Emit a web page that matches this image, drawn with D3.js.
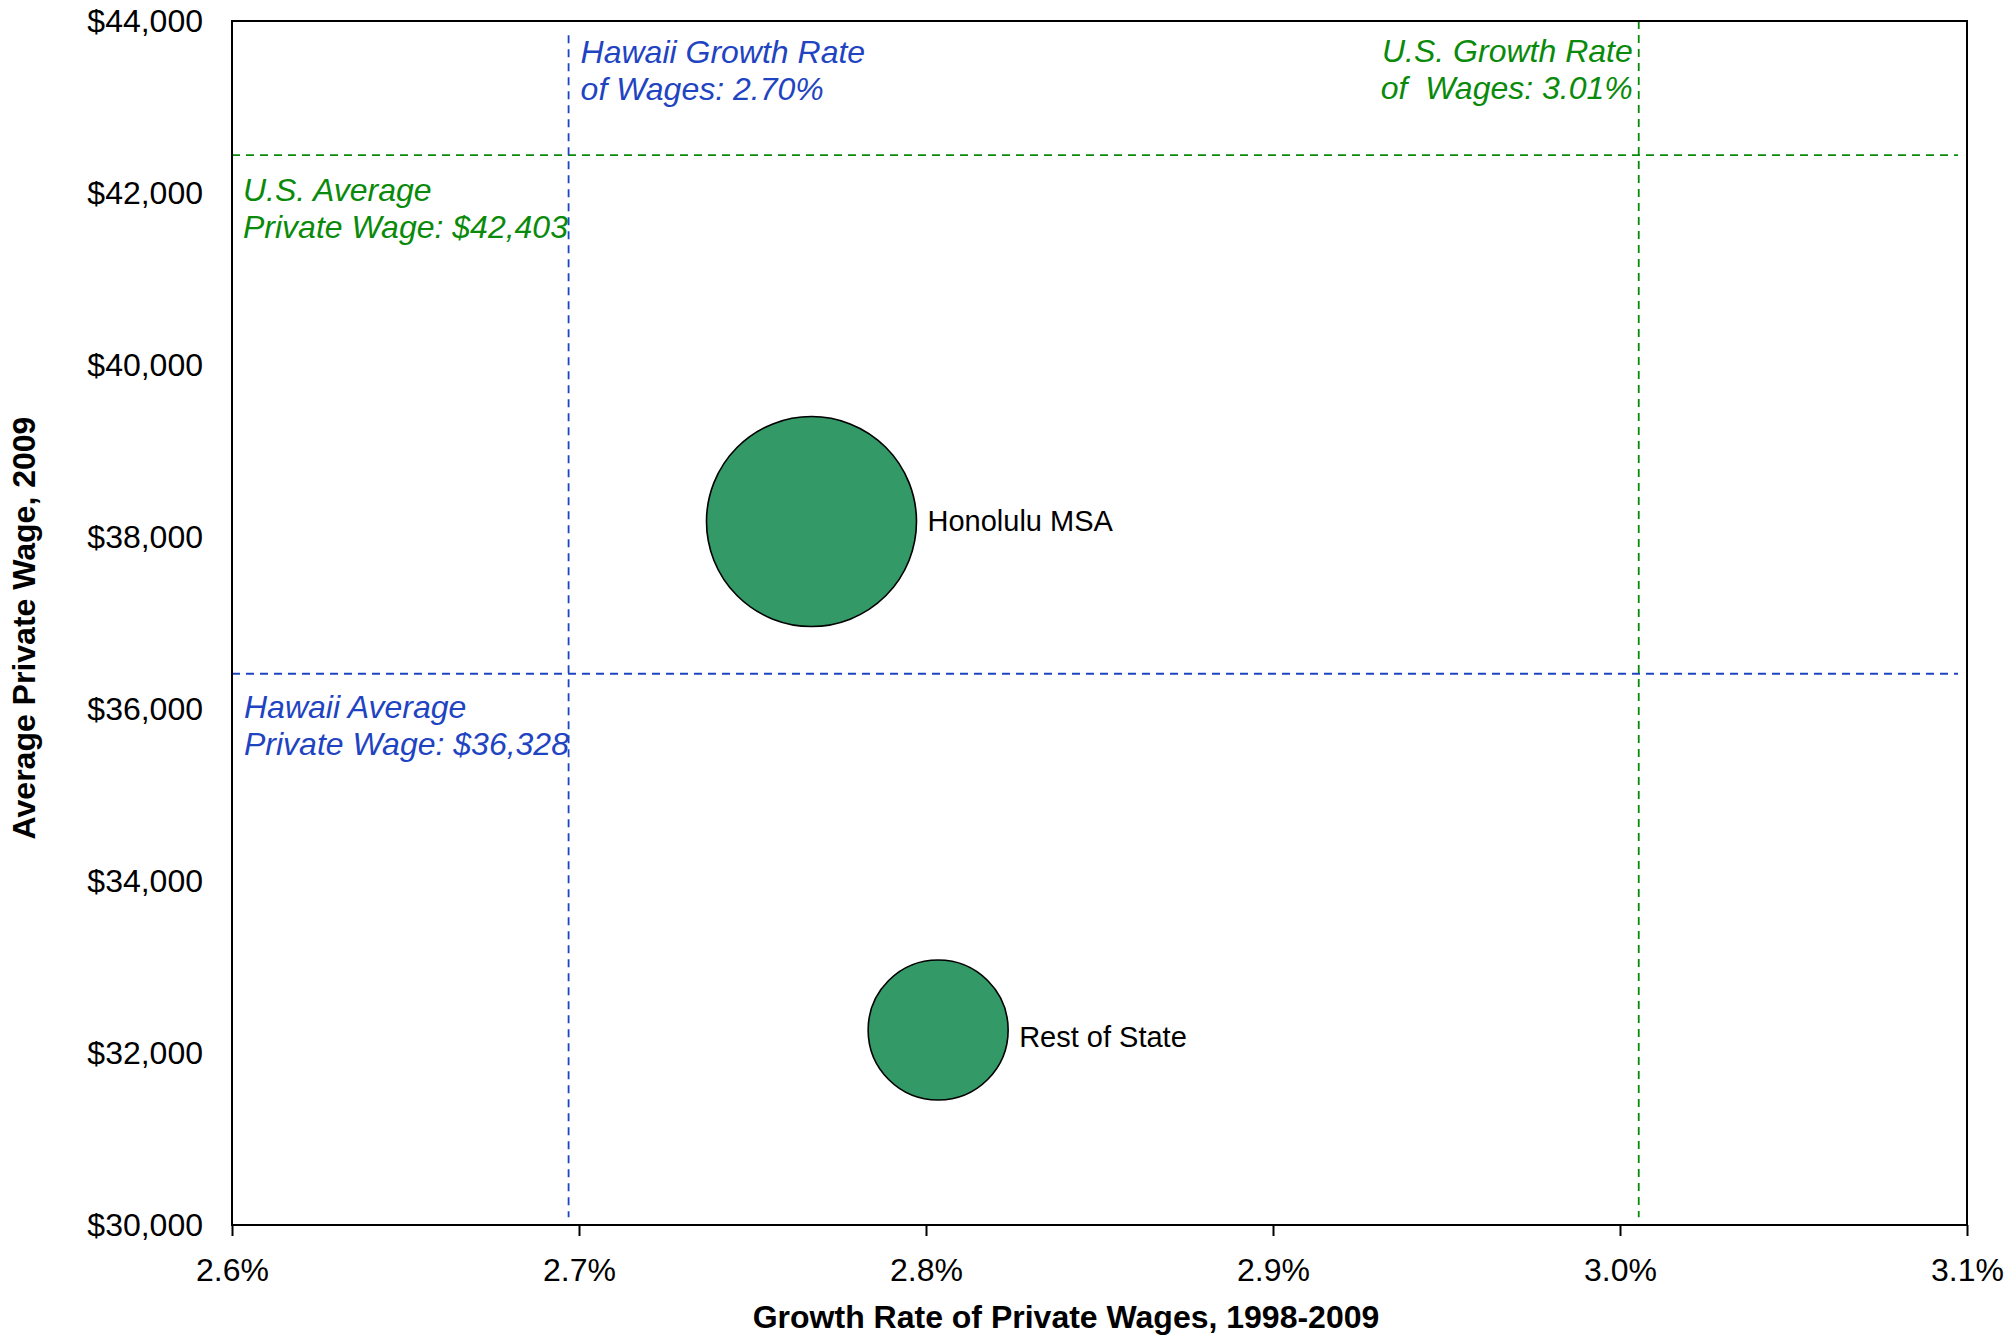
<!DOCTYPE html>
<html>
<head>
<meta charset="utf-8">
<script src="https://cdn.jsdelivr.net/npm/d3@7"></script>
<style>
  html, body { margin: 0; padding: 0; background: #fff; }
  svg { display: block; font-family: "Liberation Sans", Arial, sans-serif; }
</style>
</head>
<body>
<svg id="chart" width="2009" height="1335"></svg>
<script>
// ---------------- data ----------------
const regions      = ["Honolulu MSA", "Rest of State"];
const growthRates  = [2.767, 2.8035];        // % growth of private wages 1998-2009
const avgWages     = [38180, 32267];         // average private wage 2009 ($)
const bubbleSizes  = [360000, 160000];       // relative bubble size (employment)

const xTicks = [2.6, 2.7, 2.8, 2.9, 3.0, 3.1];
const yTicks = [30000, 32000, 34000, 36000, 38000, 40000, 42000, 44000];

// reference lines (positions as drawn in the picture)
const hawaiiGrowth = 2.697;   // labelled 2.70%
const usGrowth     = 3.0054;  // labelled 3.01%
const usWage       = 42440;   // labelled $42,403
const hawaiiWage   = 36410;   // labelled $36,328

const refTexts = {
  hawaiiGrowth: ["Hawaii Growth Rate", "of Wages: 2.70%"],
  usGrowth:     ["U.S. Growth Rate", "of  Wages: 3.01%"],
  usWage:       ["U.S. Average", "Private Wage: $42,403"],
  hawaiiWage:   ["Hawaii Average", "Private Wage: $36,328"]
};

// ---------------- layout ----------------
const svg = d3.select("#chart");
const L = 232, R = 1967, T = 21, B = 1225;
const BLUE = "#1f44c2", GREEN = "#0a8a0a", FILL = "#339966";

const x = d3.scaleLinear().domain([2.6, 3.1]).range([L, R]);
const y = d3.scaleLinear().domain([30000, 44000]).range([B, T]);
const r = d3.scaleSqrt().domain([0, d3.max(bubbleSizes)]).range([0, 105]);

// reference lines
const g = svg.append("g");
const dash = "8,6";
g.append("line").attr("x1", x(2.6)).attr("x2", x(3.0974))
  .attr("y1", y(usWage)).attr("y2", y(usWage))
  .attr("stroke", GREEN).attr("stroke-width", 1.8).attr("stroke-dasharray", dash);
g.append("line").attr("x1", x(2.6)).attr("x2", x(3.0974))
  .attr("y1", y(hawaiiWage)).attr("y2", y(hawaiiWage))
  .attr("stroke", BLUE).attr("stroke-width", 1.8).attr("stroke-dasharray", dash);
g.append("line").attr("x1", x(hawaiiGrowth)).attr("x2", x(hawaiiGrowth))
  .attr("y1", y(43835)).attr("y2", y(30090))
  .attr("stroke", BLUE).attr("stroke-width", 1.8).attr("stroke-dasharray", dash);
g.append("line").attr("x1", x(usGrowth)).attr("x2", x(usGrowth))
  .attr("y1", y(44000)).attr("y2", y(30090))
  .attr("stroke", GREEN).attr("stroke-width", 1.8).attr("stroke-dasharray", dash);

// reference annotations
function annot(lines, px, py, anchor, color) {
  const t = g.append("text").attr("x", px).attr("y", py)
    .attr("text-anchor", anchor).attr("fill", color)
    .attr("font-style", "italic").attr("font-size", 32)
    .style("white-space", "pre");
  lines.forEach((s, i) => t.append("tspan").attr("x", px).attr("dy", i === 0 ? 0 : 37).text(s));
}
annot(refTexts.hawaiiGrowth, x(hawaiiGrowth) + 12, 63, "start", BLUE);
annot(refTexts.usGrowth, x(usGrowth) - 6, 62, "end", GREEN);
annot(refTexts.usWage, x(2.6) + 11, y(usWage) + 46, "start", GREEN);
annot(refTexts.hawaiiWage, x(2.6) + 12, y(hawaiiWage) + 44, "start", BLUE);

// bubbles
const data = regions.map((name, i) => ({
  name, gx: growthRates[i], w: avgWages[i], s: bubbleSizes[i]
}));
const labelDy = [9, 17];
svg.append("g").selectAll("circle").data(data).join("circle")
  .attr("cx", d => x(d.gx)).attr("cy", d => y(d.w)).attr("r", d => r(d.s))
  .attr("fill", FILL).attr("stroke", "#000").attr("stroke-width", 1.6);
svg.append("g").selectAll("text").data(data).join("text")
  .attr("x", d => x(d.gx) + r(d.s) + 11)
  .attr("y", (d, i) => y(d.w) + labelDy[i])
  .attr("font-size", 29).attr("fill", "#000")
  .text(d => d.name);

// frame
svg.append("rect").attr("x", L).attr("y", T).attr("width", R - L).attr("height", B - T)
  .attr("fill", "none").attr("stroke", "#000").attr("stroke-width", 2);

// x axis
const xAxis = svg.append("g").attr("transform", `translate(0,${B})`)
  .call(d3.axisBottom(x).tickValues(xTicks).tickSize(11).tickPadding(22)
    .tickFormat(d => d.toFixed(1) + "%"));
xAxis.select(".domain").remove();
xAxis.selectAll("line").attr("stroke", "#000").attr("stroke-width", 2);
xAxis.selectAll("text").attr("font-size", 32).attr("fill", "#000")
  .attr("font-family", "Liberation Sans, Arial, sans-serif");

// y axis
const fmt = d3.format(",");
const yAxis = svg.append("g").attr("transform", `translate(${L},0)`)
  .call(d3.axisLeft(y).tickValues(yTicks).tickSize(0).tickPadding(29)
    .tickFormat(d => "$" + fmt(d)));
yAxis.select(".domain").remove();
yAxis.selectAll("text").attr("font-size", 32).attr("fill", "#000")
  .attr("font-family", "Liberation Sans, Arial, sans-serif");

// axis titles
svg.append("text").attr("x", 1066).attr("y", 1328)
  .attr("text-anchor", "middle").attr("font-size", 32).attr("font-weight", "bold")
  .text("Growth Rate of Private Wages, 1998-2009");
svg.append("text").attr("transform", `translate(35,628) rotate(-90)`)
  .attr("text-anchor", "middle").attr("font-size", 32).attr("font-weight", "bold")
  .text("Average Private Wage, 2009");
</script>
</body>
</html>
